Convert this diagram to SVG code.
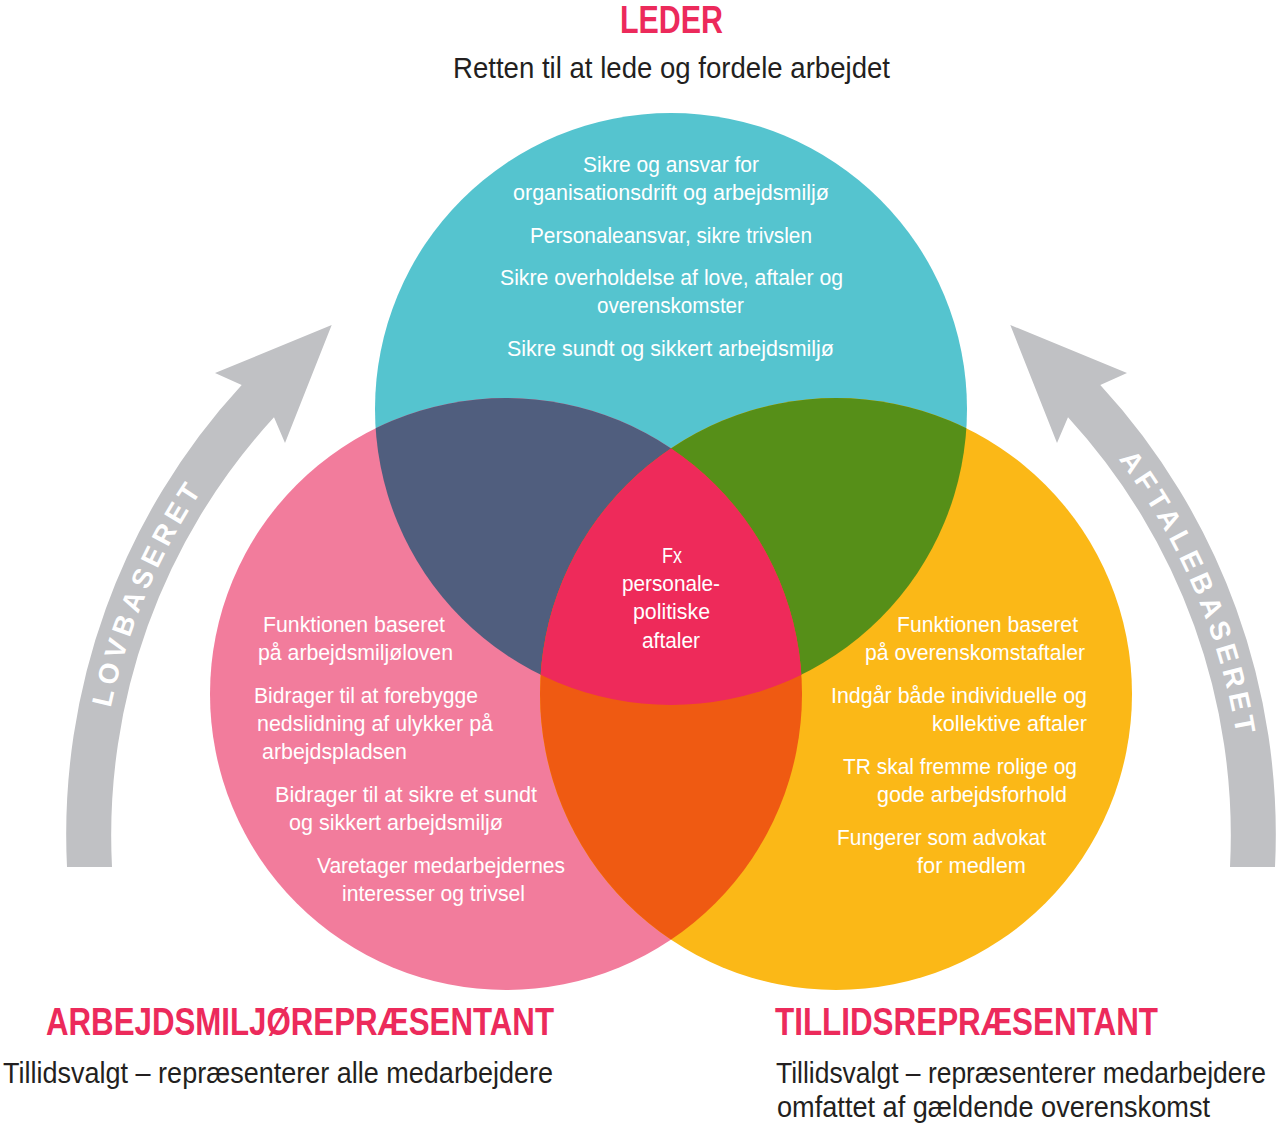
<svg xmlns="http://www.w3.org/2000/svg" width="1276" height="1124" viewBox="0 0 1276 1124">
<defs>
<style>
.t{font-family:"Liberation Sans",Arial,sans-serif;}
.body{font-size:22px;fill:#FFFFFF;}
.title{font-size:38px;font-weight:bold;fill:#EC2A5B;}
.sub{font-size:30px;fill:#231F20;}
.atxt{font-family:"Liberation Sans",Arial,sans-serif;font-size:28px;font-weight:bold;fill:#FFFFFF;letter-spacing:5px;}
.arrow{fill:#C0C1C4;}
</style>
<clipPath id="cTop"><circle cx="671" cy="409" r="296"/></clipPath>
<clipPath id="cLeft"><circle cx="506" cy="694" r="296"/></clipPath>
<clipPath id="cRight"><circle cx="836" cy="694" r="296"/></clipPath>
<path id="pLeft" d="M 98.6 884.2 A 630 630 0 0 1 322.1 355.5" fill="none"/>
<path id="pRight" d="M 1019.2 354.9 A 630 630 0 0 1 1243.5 883.1" fill="none"/>
</defs>
<rect width="1276" height="1124" fill="#FFFFFF"/>

<g id="connectors">
<g id="arrow-lovbaseret">
<path class="arrow" d="M 67 867 A 663 663 0 0 1 241.7 385 L 215 373 L 331.7 325 L 285 443 L 274 417.3 A 618 618 0 0 0 112 867 Z"/>
<text class="atxt" text-anchor="middle"><textPath href="#pLeft" startOffset="50%">LOVBASERET</textPath></text>
</g>
<g id="arrow-aftalebaseret">
<path class="arrow" transform="translate(1342 0) scale(-1 1)" d="M 67 867 A 663 663 0 0 1 241.7 385 L 215 373 L 331.7 325 L 285 443 L 274 417.3 A 618 618 0 0 0 112 867 Z"/>
<text class="atxt" text-anchor="middle"><textPath href="#pRight" startOffset="50%">AFTALEBASERET</textPath></text>
</g>
</g>

<g id="circles">
<circle id="circle-leder" cx="671" cy="409" r="296" fill="#55C4CF"/>
<circle id="circle-amr" cx="506" cy="694" r="296" fill="#F27C9C"/>
<circle id="circle-tr" cx="836" cy="694" r="296" fill="#FBB817"/>
</g>

<g id="overlaps">
<circle cx="506" cy="694" r="296" fill="#505E7E" clip-path="url(#cTop)"/>
<circle cx="836" cy="694" r="296" fill="#568F18" clip-path="url(#cTop)"/>
<circle cx="836" cy="694" r="296" fill="#EF5A12" clip-path="url(#cLeft)"/>
<g clip-path="url(#cLeft)"><circle cx="836" cy="694" r="296" fill="#EE2A5A" clip-path="url(#cTop)"/></g>
</g>

<g id="node-leder">
<text class="t title" x="620" y="33" textLength="103" lengthAdjust="spacingAndGlyphs">LEDER</text>
<text class="t sub" x="453" y="78" textLength="437" lengthAdjust="spacingAndGlyphs">Retten til at lede og fordele arbejdet</text>
<text class="t body" x="583" y="172" textLength="176" lengthAdjust="spacingAndGlyphs">Sikre og ansvar for</text>
<text class="t body" x="513" y="200" textLength="316" lengthAdjust="spacingAndGlyphs">organisationsdrift og arbejdsmiljø</text>
<text class="t body" x="530" y="243" textLength="282" lengthAdjust="spacingAndGlyphs">Personaleansvar, sikre trivslen</text>
<text class="t body" x="500" y="285" textLength="343" lengthAdjust="spacingAndGlyphs">Sikre overholdelse af love, aftaler og</text>
<text class="t body" x="597" y="313" textLength="147" lengthAdjust="spacingAndGlyphs">overenskomster</text>
<text class="t body" x="507" y="356" textLength="327" lengthAdjust="spacingAndGlyphs">Sikre sundt og sikkert arbejdsmiljø</text>
</g>

<g id="node-arbejdsmiljoerepraesentant">
<text class="t body" x="263" y="632" textLength="182" lengthAdjust="spacingAndGlyphs">Funktionen baseret</text>
<text class="t body" x="258" y="660" textLength="195" lengthAdjust="spacingAndGlyphs">på arbejdsmiljøloven</text>
<text class="t body" x="254" y="703" textLength="224" lengthAdjust="spacingAndGlyphs">Bidrager til at forebygge</text>
<text class="t body" x="257" y="731" textLength="236" lengthAdjust="spacingAndGlyphs">nedslidning af ulykker på</text>
<text class="t body" x="262" y="759" textLength="145" lengthAdjust="spacingAndGlyphs">arbejdspladsen</text>
<text class="t body" x="275" y="802" textLength="262" lengthAdjust="spacingAndGlyphs">Bidrager til at sikre et sundt</text>
<text class="t body" x="289" y="830" textLength="214" lengthAdjust="spacingAndGlyphs">og sikkert arbejdsmiljø</text>
<text class="t body" x="317" y="873" textLength="248" lengthAdjust="spacingAndGlyphs">Varetager medarbejdernes</text>
<text class="t body" x="342" y="901" textLength="183" lengthAdjust="spacingAndGlyphs">interesser og trivsel</text>
<text class="t title" x="46" y="1035" textLength="508" lengthAdjust="spacingAndGlyphs">ARBEJDSMILJØREPRÆSENTANT</text>
<text class="t sub" x="3" y="1083" textLength="550" lengthAdjust="spacingAndGlyphs">Tillidsvalgt – repræsenterer alle medarbejdere</text>
</g>

<g id="node-tillidsrepraesentant">
<text class="t body" x="897" y="632" textLength="181" lengthAdjust="spacingAndGlyphs">Funktionen baseret</text>
<text class="t body" x="865" y="660" textLength="220" lengthAdjust="spacingAndGlyphs">på overenskomstaftaler</text>
<text class="t body" x="831" y="703" textLength="256" lengthAdjust="spacingAndGlyphs">Indgår både individuelle og</text>
<text class="t body" x="932" y="731" textLength="155" lengthAdjust="spacingAndGlyphs">kollektive aftaler</text>
<text class="t body" x="843" y="774" textLength="234" lengthAdjust="spacingAndGlyphs">TR skal fremme rolige og</text>
<text class="t body" x="877" y="802" textLength="190" lengthAdjust="spacingAndGlyphs">gode arbejdsforhold</text>
<text class="t body" x="837" y="845" textLength="209" lengthAdjust="spacingAndGlyphs">Fungerer som advokat</text>
<text class="t body" x="917" y="873" textLength="109" lengthAdjust="spacingAndGlyphs">for medlem</text>
<text class="t title" x="775" y="1035" textLength="383" lengthAdjust="spacingAndGlyphs">TILLIDSREPRÆSENTANT</text>
<text class="t sub" x="776" y="1083" textLength="490" lengthAdjust="spacingAndGlyphs">Tillidsvalgt – repræsenterer medarbejdere</text>
<text class="t sub" x="777" y="1117" textLength="433" lengthAdjust="spacingAndGlyphs">omfattet af gældende overenskomst</text>
</g>

<g id="node-faelles">
<text class="t body" x="662" y="563" textLength="20" lengthAdjust="spacingAndGlyphs">Fx</text>
<text class="t body" x="622" y="591" textLength="98" lengthAdjust="spacingAndGlyphs">personale-</text>
<text class="t body" x="633" y="619" textLength="77" lengthAdjust="spacingAndGlyphs">politiske</text>
<text class="t body" x="642" y="648" textLength="58" lengthAdjust="spacingAndGlyphs">aftaler</text>
</g>
</svg>
